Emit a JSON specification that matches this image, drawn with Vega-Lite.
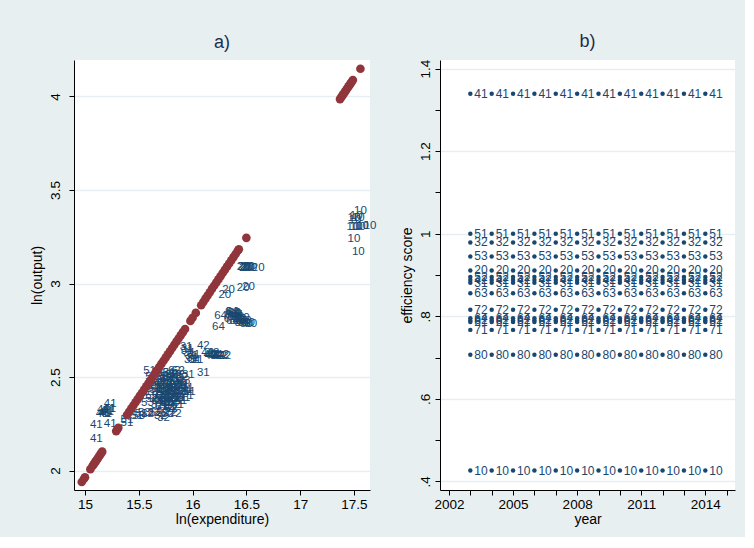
{
  "$schema": "https://vega.github.io/schema/vega-lite/v6.json",
  "background": "#e8eff1",
  "padding": {"left": 30, "top": 33, "right": 10, "bottom": 10},
  "bounds": "flush",
  "spacing": 70,
  "config": {
    "view": {"stroke": null, "fill": "#ffffff"},
    "font": "Liberation Sans",
    "axis": {
      "labelFont": "Liberation Sans", "labelFontSize": 13.5, "labelColor": "#000000",
      "titleFont": "Liberation Sans", "titleFontSize": 14, "titleFontWeight": "normal", "titleColor": "#000000",
      "domainColor": "#000000", "tickColor": "#000000", "tickSize": 5,
      "gridColor": "#e6eef1", "gridWidth": 1.5
    },
    "title": {"font": "Liberation Sans", "fontSize": 18, "fontWeight": "normal", "color": "#1c2e4a", "offset": 8}
  },
  "datasets": {
    "obs": [
      {"f":"10","yr":2003,"lx":17.56,"ly":3.39,"e":0.426},{"f":"10","yr":2004,"lx":17.52,"ly":3.36,"e":0.426},{"f":"10","yr":2005,"lx":17.50,"ly":3.35,"e":0.426},{"f":"10","yr":2006,"lx":17.54,"ly":3.35,"e":0.426},{"f":"10","yr":2007,"lx":17.51,"ly":3.34,"e":0.426},{"f":"10","yr":2008,"lx":17.49,"ly":3.30,"e":0.426},{"f":"10","yr":2009,"lx":17.52,"ly":3.30,"e":0.426},{"f":"10","yr":2010,"lx":17.55,"ly":3.30,"e":0.426},{"f":"10","yr":2011,"lx":17.58,"ly":3.31,"e":0.426},{"f":"10","yr":2012,"lx":17.65,"ly":3.31,"e":0.426},{"f":"10","yr":2013,"lx":17.50,"ly":3.24,"e":0.426},{"f":"10","yr":2014,"lx":17.54,"ly":3.17,"e":0.426},
      {"f":"20","yr":2003,"lx":16.47,"ly":3.09,"e":0.911},{"f":"20","yr":2004,"lx":16.48,"ly":3.09,"e":0.911},{"f":"20","yr":2005,"lx":16.49,"ly":3.085,"e":0.911},{"f":"20","yr":2006,"lx":16.50,"ly":3.09,"e":0.911},{"f":"20","yr":2007,"lx":16.51,"ly":3.085,"e":0.911},{"f":"20","yr":2008,"lx":16.52,"ly":3.09,"e":0.911},{"f":"20","yr":2009,"lx":16.54,"ly":3.085,"e":0.911},{"f":"20","yr":2010,"lx":16.61,"ly":3.085,"e":0.911},{"f":"20","yr":2011,"lx":16.335,"ly":2.967,"e":0.911},{"f":"20","yr":2012,"lx":16.30,"ly":2.94,"e":0.911},{"f":"20","yr":2013,"lx":16.47,"ly":2.975,"e":0.911},{"f":"20","yr":2014,"lx":16.52,"ly":2.98,"e":0.911},
      {"f":"31","yr":2003,"lx":15.95,"ly":2.648,"e":0.881},{"f":"31","yr":2004,"lx":15.95,"ly":2.64,"e":0.881},{"f":"31","yr":2005,"lx":15.97,"ly":2.63,"e":0.881},{"f":"31","yr":2006,"lx":15.98,"ly":2.59,"e":0.881},{"f":"31","yr":2007,"lx":16.00,"ly":2.60,"e":0.881},{"f":"31","yr":2008,"lx":16.02,"ly":2.59,"e":0.881},{"f":"31","yr":2009,"lx":16.04,"ly":2.59,"e":0.881},{"f":"31","yr":2010,"lx":16.10,"ly":2.523,"e":0.881},{"f":"31","yr":2011,"lx":15.96,"ly":2.51,"e":0.881},{"f":"31","yr":2012,"lx":15.99,"ly":2.61,"e":0.881},{"f":"31","yr":2013,"lx":16.01,"ly":2.62,"e":0.881},{"f":"31","yr":2014,"lx":15.94,"ly":2.66,"e":0.881},
      {"f":"32","yr":2003,"lx":15.58,"ly":2.30,"e":0.979},{"f":"32","yr":2004,"lx":15.64,"ly":2.31,"e":0.979},{"f":"32","yr":2005,"lx":15.70,"ly":2.29,"e":0.979},{"f":"32","yr":2006,"lx":15.73,"ly":2.28,"e":0.979},{"f":"32","yr":2007,"lx":15.67,"ly":2.35,"e":0.979},{"f":"32","yr":2008,"lx":15.71,"ly":2.37,"e":0.979},{"f":"32","yr":2009,"lx":15.75,"ly":2.39,"e":0.979},{"f":"32","yr":2010,"lx":15.79,"ly":2.36,"e":0.979},{"f":"32","yr":2011,"lx":15.82,"ly":2.41,"e":0.979},{"f":"32","yr":2012,"lx":15.85,"ly":2.45,"e":0.979},{"f":"32","yr":2013,"lx":15.88,"ly":2.47,"e":0.979},{"f":"32","yr":2014,"lx":15.90,"ly":2.50,"e":0.979},
      {"f":"41","yr":2003,"lx":15.235,"ly":2.355,"e":1.339},{"f":"41","yr":2004,"lx":15.105,"ly":2.245,"e":1.339},{"f":"41","yr":2005,"lx":15.105,"ly":2.17,"e":1.339},{"f":"41","yr":2006,"lx":15.235,"ly":2.25,"e":1.339},{"f":"41","yr":2007,"lx":15.17,"ly":2.325,"e":1.339},{"f":"41","yr":2008,"lx":15.18,"ly":2.31,"e":1.339},{"f":"41","yr":2009,"lx":15.20,"ly":2.32,"e":1.339},{"f":"41","yr":2010,"lx":15.22,"ly":2.33,"e":1.339},{"f":"41","yr":2011,"lx":15.19,"ly":2.30,"e":1.339},{"f":"41","yr":2012,"lx":15.21,"ly":2.315,"e":1.339},{"f":"41","yr":2013,"lx":15.16,"ly":2.30,"e":1.339},{"f":"41","yr":2014,"lx":15.23,"ly":2.33,"e":1.339},
      {"f":"42","yr":2003,"lx":16.10,"ly":2.667,"e":0.888},{"f":"42","yr":2004,"lx":16.16,"ly":2.62,"e":0.888},{"f":"42","yr":2005,"lx":16.18,"ly":2.62,"e":0.888},{"f":"42","yr":2006,"lx":16.20,"ly":2.62,"e":0.888},{"f":"42","yr":2007,"lx":16.22,"ly":2.615,"e":0.888},{"f":"42","yr":2008,"lx":16.24,"ly":2.61,"e":0.888},{"f":"42","yr":2009,"lx":16.26,"ly":2.61,"e":0.888},{"f":"42","yr":2010,"lx":16.14,"ly":2.63,"e":0.888},{"f":"42","yr":2011,"lx":16.19,"ly":2.63,"e":0.888},{"f":"42","yr":2012,"lx":16.28,"ly":2.62,"e":0.888},{"f":"42","yr":2013,"lx":16.17,"ly":2.615,"e":0.888},{"f":"42","yr":2014,"lx":16.30,"ly":2.615,"e":0.888},
      {"f":"51","yr":2003,"lx":15.39,"ly":2.256,"e":1.0},{"f":"51","yr":2004,"lx":15.39,"ly":2.27,"e":1.0},{"f":"51","yr":2005,"lx":15.48,"ly":2.29,"e":1.0},{"f":"51","yr":2006,"lx":15.52,"ly":2.30,"e":1.0},{"f":"51","yr":2007,"lx":15.60,"ly":2.53,"e":1.0},{"f":"51","yr":2008,"lx":15.62,"ly":2.50,"e":1.0},{"f":"51","yr":2009,"lx":15.65,"ly":2.47,"e":1.0},{"f":"51","yr":2010,"lx":15.68,"ly":2.52,"e":1.0},{"f":"51","yr":2011,"lx":15.70,"ly":2.45,"e":1.0},{"f":"51","yr":2012,"lx":15.74,"ly":2.50,"e":1.0},{"f":"51","yr":2013,"lx":15.78,"ly":2.52,"e":1.0},{"f":"51","yr":2014,"lx":15.82,"ly":2.49,"e":1.0},
      {"f":"52","yr":2003,"lx":15.66,"ly":2.31,"e":0.895},{"f":"52","yr":2004,"lx":15.72,"ly":2.31,"e":0.895},{"f":"52","yr":2005,"lx":15.77,"ly":2.30,"e":0.895},{"f":"52","yr":2006,"lx":15.62,"ly":2.38,"e":0.895},{"f":"52","yr":2007,"lx":15.68,"ly":2.40,"e":0.895},{"f":"52","yr":2008,"lx":15.74,"ly":2.43,"e":0.895},{"f":"52","yr":2009,"lx":15.78,"ly":2.46,"e":0.895},{"f":"52","yr":2010,"lx":15.81,"ly":2.48,"e":0.895},{"f":"52","yr":2011,"lx":15.84,"ly":2.51,"e":0.895},{"f":"52","yr":2012,"lx":15.87,"ly":2.53,"e":0.895},{"f":"52","yr":2013,"lx":15.76,"ly":2.36,"e":0.895},{"f":"52","yr":2014,"lx":15.80,"ly":2.33,"e":0.895},
      {"f":"53","yr":2003,"lx":15.50,"ly":2.29,"e":0.945},{"f":"53","yr":2004,"lx":15.55,"ly":2.31,"e":0.945},{"f":"53","yr":2005,"lx":15.58,"ly":2.36,"e":0.945},{"f":"53","yr":2006,"lx":15.62,"ly":2.40,"e":0.945},{"f":"53","yr":2007,"lx":15.66,"ly":2.43,"e":0.945},{"f":"53","yr":2008,"lx":15.70,"ly":2.38,"e":0.945},{"f":"53","yr":2009,"lx":15.72,"ly":2.42,"e":0.945},{"f":"53","yr":2010,"lx":15.75,"ly":2.45,"e":0.945},{"f":"53","yr":2011,"lx":15.78,"ly":2.40,"e":0.945},{"f":"53","yr":2012,"lx":15.80,"ly":2.44,"e":0.945},{"f":"53","yr":2013,"lx":15.83,"ly":2.42,"e":0.945},{"f":"53","yr":2014,"lx":15.86,"ly":2.39,"e":0.945},
      {"f":"61","yr":2003,"lx":15.60,"ly":2.42,"e":0.786},{"f":"61","yr":2004,"lx":15.64,"ly":2.44,"e":0.786},{"f":"61","yr":2005,"lx":15.68,"ly":2.37,"e":0.786},{"f":"61","yr":2006,"lx":15.71,"ly":2.34,"e":0.786},{"f":"61","yr":2007,"lx":15.75,"ly":2.36,"e":0.786},{"f":"61","yr":2008,"lx":15.79,"ly":2.34,"e":0.786},{"f":"61","yr":2009,"lx":15.82,"ly":2.38,"e":0.786},{"f":"61","yr":2010,"lx":15.86,"ly":2.35,"e":0.786},{"f":"61","yr":2011,"lx":15.89,"ly":2.37,"e":0.786},{"f":"61","yr":2012,"lx":15.92,"ly":2.39,"e":0.786},{"f":"61","yr":2013,"lx":15.95,"ly":2.44,"e":0.786},{"f":"61","yr":2014,"lx":15.97,"ly":2.42,"e":0.786},
      {"f":"62","yr":2003,"lx":15.71,"ly":2.40,"e":0.790},{"f":"62","yr":2004,"lx":15.73,"ly":2.38,"e":0.790},{"f":"62","yr":2005,"lx":15.76,"ly":2.42,"e":0.790},{"f":"62","yr":2006,"lx":15.79,"ly":2.39,"e":0.790},{"f":"62","yr":2007,"lx":15.82,"ly":2.43,"e":0.790},{"f":"62","yr":2008,"lx":15.85,"ly":2.44,"e":0.790},{"f":"62","yr":2009,"lx":15.74,"ly":2.46,"e":0.790},{"f":"62","yr":2010,"lx":15.77,"ly":2.50,"e":0.790},{"f":"62","yr":2011,"lx":15.80,"ly":2.51,"e":0.790},{"f":"62","yr":2012,"lx":15.83,"ly":2.53,"e":0.790},{"f":"62","yr":2013,"lx":15.87,"ly":2.51,"e":0.790},{"f":"62","yr":2014,"lx":15.90,"ly":2.41,"e":0.790},
      {"f":"63","yr":2003,"lx":15.63,"ly":2.45,"e":0.856},{"f":"63","yr":2004,"lx":15.66,"ly":2.48,"e":0.856},{"f":"63","yr":2005,"lx":15.69,"ly":2.50,"e":0.856},{"f":"63","yr":2006,"lx":15.72,"ly":2.52,"e":0.856},{"f":"63","yr":2007,"lx":15.75,"ly":2.49,"e":0.856},{"f":"63","yr":2008,"lx":15.78,"ly":2.48,"e":0.856},{"f":"63","yr":2009,"lx":15.81,"ly":2.45,"e":0.856},{"f":"63","yr":2010,"lx":15.84,"ly":2.46,"e":0.856},{"f":"63","yr":2011,"lx":15.86,"ly":2.49,"e":0.856},{"f":"63","yr":2012,"lx":15.89,"ly":2.45,"e":0.856},{"f":"63","yr":2013,"lx":15.92,"ly":2.48,"e":0.856},{"f":"63","yr":2014,"lx":15.70,"ly":2.46,"e":0.856},
      {"f":"64","yr":2003,"lx":16.26,"ly":2.824,"e":0.795},{"f":"64","yr":2004,"lx":16.24,"ly":2.77,"e":0.795},{"f":"64","yr":2005,"lx":16.36,"ly":2.85,"e":0.795},{"f":"64","yr":2006,"lx":16.37,"ly":2.85,"e":0.795},{"f":"64","yr":2007,"lx":16.38,"ly":2.845,"e":0.795},{"f":"64","yr":2008,"lx":16.39,"ly":2.84,"e":0.795},{"f":"64","yr":2009,"lx":16.40,"ly":2.835,"e":0.795},{"f":"64","yr":2010,"lx":16.36,"ly":2.83,"e":0.795},{"f":"64","yr":2011,"lx":16.38,"ly":2.82,"e":0.795},{"f":"64","yr":2012,"lx":16.41,"ly":2.83,"e":0.795},{"f":"64","yr":2013,"lx":16.35,"ly":2.81,"e":0.795},{"f":"64","yr":2014,"lx":16.37,"ly":2.80,"e":0.795},
      {"f":"71","yr":2003,"lx":15.95,"ly":2.40,"e":0.767},{"f":"71","yr":2004,"lx":15.92,"ly":2.42,"e":0.767},{"f":"71","yr":2005,"lx":15.90,"ly":2.44,"e":0.767},{"f":"71","yr":2006,"lx":15.88,"ly":2.39,"e":0.767},{"f":"71","yr":2007,"lx":15.86,"ly":2.37,"e":0.767},{"f":"71","yr":2008,"lx":15.83,"ly":2.39,"e":0.767},{"f":"71","yr":2009,"lx":15.80,"ly":2.41,"e":0.767},{"f":"71","yr":2010,"lx":15.78,"ly":2.44,"e":0.767},{"f":"71","yr":2011,"lx":15.76,"ly":2.47,"e":0.767},{"f":"71","yr":2012,"lx":15.73,"ly":2.44,"e":0.767},{"f":"71","yr":2013,"lx":15.91,"ly":2.46,"e":0.767},{"f":"71","yr":2014,"lx":15.94,"ly":2.43,"e":0.767},
      {"f":"72","yr":2003,"lx":15.84,"ly":2.30,"e":0.816},{"f":"72","yr":2004,"lx":15.80,"ly":2.31,"e":0.816},{"f":"72","yr":2005,"lx":15.76,"ly":2.33,"e":0.816},{"f":"72","yr":2006,"lx":15.73,"ly":2.35,"e":0.816},{"f":"72","yr":2007,"lx":15.77,"ly":2.38,"e":0.816},{"f":"72","yr":2008,"lx":15.81,"ly":2.37,"e":0.816},{"f":"72","yr":2009,"lx":15.85,"ly":2.40,"e":0.816},{"f":"72","yr":2010,"lx":15.88,"ly":2.42,"e":0.816},{"f":"72","yr":2011,"lx":15.83,"ly":2.35,"e":0.816},{"f":"72","yr":2012,"lx":15.79,"ly":2.42,"e":0.816},{"f":"72","yr":2013,"lx":15.74,"ly":2.40,"e":0.816},{"f":"72","yr":2014,"lx":15.70,"ly":2.41,"e":0.816},
      {"f":"80","yr":2003,"lx":16.42,"ly":2.82,"e":0.707},{"f":"80","yr":2004,"lx":16.44,"ly":2.81,"e":0.707},{"f":"80","yr":2005,"lx":16.46,"ly":2.80,"e":0.707},{"f":"80","yr":2006,"lx":16.48,"ly":2.79,"e":0.707},{"f":"80","yr":2007,"lx":16.50,"ly":2.785,"e":0.707},{"f":"80","yr":2008,"lx":16.54,"ly":2.783,"e":0.707},{"f":"80","yr":2009,"lx":16.45,"ly":2.79,"e":0.707},{"f":"80","yr":2010,"lx":16.43,"ly":2.80,"e":0.707},{"f":"80","yr":2011,"lx":16.47,"ly":2.815,"e":0.707},{"f":"80","yr":2012,"lx":16.40,"ly":2.80,"e":0.707},{"f":"80","yr":2013,"lx":16.49,"ly":2.80,"e":0.707},{"f":"80","yr":2014,"lx":16.52,"ly":2.79,"e":0.707}
    ],
    "front": [
      {"fx":14.97,"fy":1.939},{"fx":14.99,"fy":1.955},{"fx":15.00,"fy":1.964},
      {"fx":15.05,"fy":2.007},{"fx":15.07,"fy":2.024},{"fx":15.08,"fy":2.032},{"fx":15.09,"fy":2.041},{"fx":15.10,"fy":2.049},{"fx":15.11,"fy":2.058},{"fx":15.12,"fy":2.066},{"fx":15.13,"fy":2.075},{"fx":15.14,"fy":2.084},{"fx":15.15,"fy":2.092},{"fx":15.16,"fy":2.101},
      {"fx":15.29,"fy":2.211},{"fx":15.30,"fy":2.220},{"fx":15.31,"fy":2.229},
      {"fx":15.39,"fy":2.297},{"fx":15.41,"fy":2.314},{"fx":15.43,"fy":2.331},{"fx":15.45,"fy":2.348},{"fx":15.47,"fy":2.365},{"fx":15.49,"fy":2.382},{"fx":15.51,"fy":2.399},{"fx":15.53,"fy":2.416},{"fx":15.55,"fy":2.433},{"fx":15.57,"fy":2.450},{"fx":15.59,"fy":2.467},{"fx":15.61,"fy":2.484},{"fx":15.63,"fy":2.501},{"fx":15.65,"fy":2.519},{"fx":15.67,"fy":2.536},{"fx":15.69,"fy":2.553},{"fx":15.71,"fy":2.570},{"fx":15.73,"fy":2.587},{"fx":15.75,"fy":2.604},{"fx":15.77,"fy":2.621},{"fx":15.79,"fy":2.638},{"fx":15.81,"fy":2.655},{"fx":15.83,"fy":2.672},{"fx":15.85,"fy":2.689},{"fx":15.87,"fy":2.706},{"fx":15.89,"fy":2.723},{"fx":15.91,"fy":2.740},{"fx":15.93,"fy":2.757},
      {"fx":15.98,"fy":2.800},{"fx":16.00,"fy":2.817},{"fx":16.03,"fy":2.843},
      {"fx":16.08,"fy":2.884},{"fx":16.10,"fy":2.901},{"fx":16.12,"fy":2.919},{"fx":16.14,"fy":2.936},{"fx":16.16,"fy":2.953},{"fx":16.18,"fy":2.971},{"fx":16.20,"fy":2.988},{"fx":16.22,"fy":3.005},{"fx":16.24,"fy":3.022},{"fx":16.26,"fy":3.039},{"fx":16.28,"fy":3.056},{"fx":16.30,"fy":3.073},{"fx":16.32,"fy":3.090},{"fx":16.34,"fy":3.107},{"fx":16.36,"fy":3.124},{"fx":16.38,"fy":3.141},{"fx":16.40,"fy":3.158},{"fx":16.42,"fy":3.175},{"fx":16.43,"fy":3.183},
      {"fx":16.50,"fy":3.244},
      {"fx":17.37,"fy":3.986},{"fx":17.38,"fy":3.994},{"fx":17.39,"fy":4.003},{"fx":17.40,"fy":4.011},{"fx":17.41,"fy":4.020},{"fx":17.42,"fy":4.028},{"fx":17.43,"fy":4.037},{"fx":17.44,"fy":4.045},{"fx":17.45,"fy":4.054},{"fx":17.46,"fy":4.062},{"fx":17.47,"fy":4.071},{"fx":17.48,"fy":4.079},{"fx":17.49,"fy":4.088},
      {"fx":17.56,"fy":4.148}
    ]
  },
  "hconcat": [
    {
      "width": 296, "height": 430,
      "title": {"text": "a)"},
      "layer": [
        {
          "data": {"name": "obs"},
          "mark": {"type": "text", "fontSize": 11.5, "color": "#1a476f", "font": "Liberation Sans", "align": "center", "baseline": "middle"},
          "encoding": {
            "x": {"field": "lx", "type": "quantitative", "scale": {"domain": [14.898, 17.649], "nice": false, "zero": false},
                  "axis": {"title": "ln(expenditure)", "format": "~g", "values": [15, 15.5, 16, 16.5, 17, 17.5], "grid": false, "labelPadding": 2, "titlePadding": 2}},
            "y": {"field": "ly", "type": "quantitative", "scale": {"domain": [1.896, 4.195], "nice": false, "zero": false},
                  "axis": {"title": "ln(output)", "format": "~g", "values": [2, 2.5, 3, 3.5, 4], "grid": true, "labelAngle": -90, "labelAlign": "center", "labelBaseline": "bottom", "labelPadding": 7, "titlePadding": 4}},
            "text": {"field": "f"}
          }
        },
        {
          "data": {"name": "front"},
          "mark": {"type": "circle", "size": 75, "color": "#90353b", "opacity": 1},
          "encoding": {
            "x": {"field": "fx", "type": "quantitative"},
            "y": {"field": "fy", "type": "quantitative"}
          }
        }
      ]
    },
    {
      "width": 295, "height": 430,
      "title": {"text": "b)"},
      "data": {"name": "obs"},
      "encoding": {
        "x": {"field": "yr", "type": "quantitative", "scale": {"domain": [2001.58, 2015.39], "nice": false, "zero": false},
              "axis": {"title": "year", "format": "d", "values": [2002,2003,2004,2005,2006,2007,2008,2009,2010,2011,2012,2013,2014,2015], "labelExpr": "(datum.value - 2002) % 3 == 0 ? datum.label : ''", "grid": false, "labelPadding": 2, "titlePadding": 2}},
        "y": {"field": "e", "type": "quantitative", "scale": {"domain": [0.379, 1.421], "nice": false, "zero": false},
              "axis": {"title": "efficiency score", "values": [0.4,0.5,0.6,0.7,0.8,0.9,1.0,1.1,1.2,1.3,1.4],
                       "labelExpr": "abs((datum.value*10) % 2 - 1) < 0.01 ? '' : (datum.value < 1 ? '.' + round(datum.value*10) : format(datum.value, '~g'))",
                       "grid": true, "gridOpacity": {"condition": {"test": "abs((datum.value*10) % 2 - 1) < 0.01", "value": 0}, "value": 1},
                       "labelAngle": -90, "labelAlign": "center", "labelBaseline": "bottom", "labelPadding": 3, "titlePadding": 4}}
      },
      "layer": [
        {"mark": {"type": "circle", "size": 20, "color": "#1a476f", "opacity": 1}},
        {"mark": {"type": "text", "fontSize": 12, "color": "#1a476f", "font": "Liberation Sans", "align": "left", "baseline": "middle", "dx": 4},
         "encoding": {"text": {"field": "f"}}}
      ]
    }
  ]
}
